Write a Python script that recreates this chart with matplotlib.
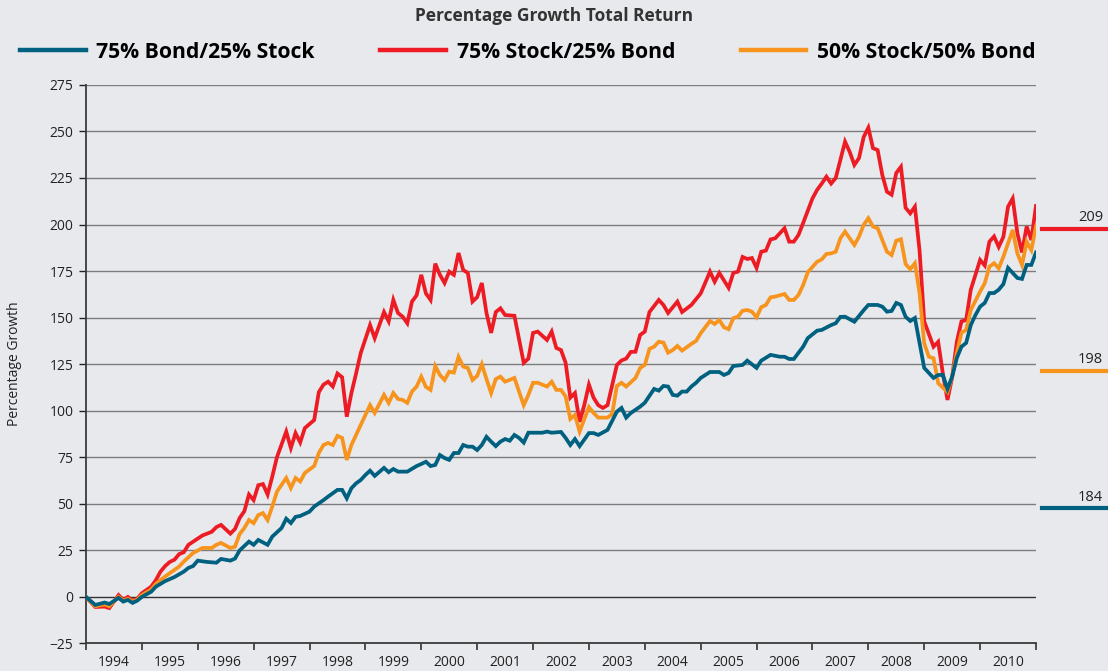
import matplotlib
matplotlib.use("Agg")
import matplotlib.pyplot as plt
from matplotlib.lines import Line2D
from matplotlib.transforms import blended_transform_factory

plt.rcParams["font.family"] = ["Open Sans", "DejaVu Sans"]

# months counted from the start of the chart (Dec 1993 = 0)
years = list(range(1994, 2011))
series_names = ["75% Bond/25% Stock", "75% Stock/25% Bond", "50% Stock/50% Bond"]
end_labels = ["184", "209", "198"]

bond75_m = [0, 2, 4, 5, 7, 8, 9, 10, 11, 12, 14, 15, 17, 19, 21, 22, 23, 24, 26, 28, 29, 31, 32, 33, 35, 36, 37, 39, 40,
            42, 43, 44, 45, 46, 48, 49, 51, 52, 54, 55, 56, 57, 58, 59, 60, 61, 62, 64, 65, 66, 67, 69, 71, 72, 73, 74,
            75, 76, 77, 78, 79, 80, 81, 82, 83, 84, 85, 86, 87, 88, 89, 90, 91, 92, 93, 94, 95, 98, 99, 100, 102, 103,
            104, 105, 106, 108, 109, 110, 112, 114, 115, 116, 117, 119, 120, 122, 123, 124, 125, 126, 127, 128, 129,
            130, 131, 132, 134, 136, 137, 138, 139, 141, 142, 144, 145, 147, 149, 150, 151, 152, 154, 155, 157, 158,
            160, 161, 162, 163, 165, 167, 168, 170, 171, 172, 173, 174, 175, 176, 177, 178, 179, 180, 182, 183, 184,
            185, 186, 187, 188, 189, 190, 191, 192, 193, 194, 195, 196, 197, 198, 200, 201, 202, 203, 204]
bond75_v = [0, -4.3, -3, -3.8, -0.5, -2.5, -1.6, -3.2, -2, 0, 2.8, 5.5, 8.5, 10.7, 13.6, 15.6, 16.6, 19.5, 18.8, 18.4,
            20.4, 19.5, 20.6, 25, 29.7, 28, 30.6, 28, 32.4, 37, 42, 39.7, 43, 43.5, 45.8, 48.5, 52, 53.9, 57.5, 57.5,
            53, 58.4, 61, 62.8, 65.5, 67.8, 65, 69.3, 67, 68.7, 67.3, 67.3, 70.3, 71.4, 72.6, 70.3, 70.9, 76.2, 74.6,
            73.6, 77.3, 77.3, 81.6, 80.7, 80.7, 78.9, 81.6, 86, 83.4, 81, 83.4, 84.8, 83.9, 87, 85.4, 82.9, 88.2, 88.2,
            88.8, 88.2, 88.6, 85.4, 81.6, 84.8, 81, 88, 88, 87, 89.7, 99.5, 101.5, 96.3, 98.8, 102.2, 104.3, 111.7,
            110.8, 113.3, 113, 108.5, 108.1, 110.3, 110.3, 113, 115, 117.6, 120.8, 120.8, 119.2, 120.3, 124, 124.6,
            126.9, 123, 126.9, 130, 129, 129, 127.8, 127.8, 134.4, 139, 143, 143.4, 146, 147, 150.4, 150.5, 147.8, 154,
            156.8, 156.8, 155.9, 153.2, 153.6, 157.9, 156.8, 150.5, 148.2, 149.8, 136.4, 123, 117.6, 119.2, 119.2,
            111.7, 118.3, 128.3, 134.4, 136.4, 146, 151.4, 155.9, 157.9, 163.2, 163.2, 165, 168, 176.7, 171.3, 170.8,
            178.3, 178.3, 185]

stock75_m = [0, 2, 4, 5, 7, 8, 9, 10, 11, 12, 14, 15, 16, 17, 18, 19, 20, 21, 22, 25, 27, 28, 29, 31, 32, 33, 34, 35,
             36, 37, 38, 39, 40, 41, 43, 44, 45, 46, 47, 49, 50, 51, 52, 53, 54, 55, 56, 57, 58, 59, 61, 62, 64, 65,
             66, 67, 68, 69, 70, 71, 72, 73, 74, 75, 76, 77, 78, 79, 80, 81, 82, 83, 84, 85, 86, 87, 88, 89, 90, 92,
             94, 95, 96, 97, 99, 100, 101, 102, 103, 104, 105, 106, 107, 108, 109, 110, 111, 112, 114, 115, 116, 117,
             118, 119, 120, 121, 123, 124, 125, 127, 128, 130, 132, 134, 135, 136, 138, 139, 140, 141, 142, 143, 144,
             145, 146, 147, 148, 150, 151, 152, 153, 154, 156, 157, 158, 159, 160, 161, 163, 164, 165, 166, 167, 168,
             169, 170, 171, 172, 173, 174, 175, 176, 177, 178, 179, 180, 182, 183, 184, 185, 186, 187, 188, 189, 190,
             191, 192, 193, 194, 195, 196, 197, 198, 199, 200, 201, 202, 203, 204]
stock75_v = [0, -5.4, -5.2, -6, 1, -1.6, 0, -2, -1, 2, 5.5, 9, 13.6, 16.6, 18.8, 20, 23, 24, 28, 33, 35, 37.5, 38.7, 34,
             36.5, 42.4, 46, 55, 52, 60, 60.6, 55, 64.6, 75, 88.8, 80, 88, 83, 90.7, 95, 110, 114, 115.6, 113, 120,
             118, 96.8, 109.5, 120, 131, 146, 139, 153, 148, 159.5, 152.5, 150.5, 147, 158.6, 162, 173, 163, 159.5,
             179, 173, 168.6, 174.7, 173, 184.7, 175.6, 174, 158.6, 161, 168.6, 152.5, 141.8, 153, 155, 151.4, 151,
             125.7, 128, 141.8, 142.5, 138, 142.5, 133.7, 132.6, 125.7, 107, 109.5, 94, 103, 114, 107, 103, 101.5, 103,
             124.6, 127, 128, 131.6, 131.7, 140.7, 142.5, 153, 159.5, 156.8, 152.5, 158.6, 153, 156.8, 163, 174.7,
             169.3, 174, 166, 174, 174.7, 182.6, 181.5, 182, 176.7, 185.4, 186, 192, 192.6, 198, 190.8, 190.8, 194.4,
             200.8, 214, 218.6, 222, 225.7, 222, 225, 244.5, 239, 232, 235.7, 247, 252, 241, 240, 226.6, 217.6, 216,
             227.7, 231, 209, 206, 209.6, 186, 148, 134.4, 137, 120, 105.8, 118, 137, 148, 148.7, 165, 173, 181, 178,
             190.8, 193.6, 188, 193.4, 209.6, 214, 195.4, 185, 199, 191.7, 210]

stock50_m = [0, 2, 4, 5, 7, 8, 9, 10, 11, 12, 14, 15, 17, 19, 20, 21, 23, 25, 27, 28, 29, 31, 32, 33, 34, 35, 36, 37,
             38, 39, 40, 41, 43, 44, 45, 46, 47, 49, 50, 51, 52, 53, 54, 55, 56, 57, 59, 61, 62, 64, 65, 66, 67, 68,
             69, 70, 71, 72, 73, 74, 75, 76, 77, 78, 79, 80, 81, 82, 83, 84, 85, 86, 87, 88, 89, 90, 92, 94, 95, 96,
             97, 99, 100, 101, 102, 103, 104, 105, 106, 108, 109, 110, 112, 113, 114, 115, 116, 118, 119, 120, 121,
             122, 123, 124, 125, 126, 127, 128, 130, 131, 132, 134, 135, 136, 137, 138, 139, 140, 141, 142, 143, 144,
             145, 146, 147, 148, 150, 151, 152, 153, 154, 155, 157, 158, 159, 160, 161, 162, 163, 164, 165, 166, 167,
             168, 169, 170, 171, 172, 173, 174, 175, 176, 177, 178, 179, 180, 181, 182, 183, 185, 186, 187, 188, 189,
             190, 192, 193, 194, 195, 196, 197, 199, 200, 201, 202, 203, 204]
stock50_v = [0, -5, -4, -5, 0, -2, -1, -2.5, -1.5, 1, 4, 7, 11, 14.5, 16.3, 19, 23.6, 26.3, 26.3, 28, 29, 26.3, 27,
             33.8, 37, 41.3, 39.6, 44, 45, 41.3, 48.5, 56.5, 63.9, 58.5, 63.9, 62, 66.6, 70.3, 77.3, 81.6, 82.7, 81.6,
             86.5, 85.4, 73.6, 81.6, 92.4, 103, 98.8, 108.5, 104.2, 109.5, 106.3, 105.8, 104.2, 110.3, 113, 118.3,
             112.8, 111.2, 124, 119.2, 116.5, 121, 120.5, 128.9, 123.7, 123, 116.5, 118.7, 125, 117, 109.5, 117, 118.3,
             115.6, 117.6, 103, 108.5, 115, 115, 113, 115.6, 111.2, 111.2, 107.6, 95.6, 97.7, 88.8, 102, 98.8, 96.3,
             96.3, 98.3, 113.3, 115, 113, 117.6, 123, 124.6, 133.2, 134.4, 137.1, 136.6, 131.2, 132.6, 134.8, 132.3,
             135.9, 137.5, 141.6, 148.2, 146.6, 148.7, 144.8, 143.8, 149.7, 150.5, 153.7, 154.1, 153.2, 150.2, 155.6,
             156.8, 160.9, 161.3, 162.7, 159.5, 159.5, 162.2, 167.5, 174.4, 180, 181.3, 184.2, 184.5, 185.4, 192.6,
             196.2, 192.6, 189, 193.5, 199.8, 203.4, 198.9, 198, 191.7, 185.4, 183.6, 191.3, 192.1, 178.8, 176, 179.2,
             163.1, 136.2, 129, 128.2, 114.8, 110, 118.3, 130.9, 141.9, 143.4, 154.1, 164, 168.5, 177.4, 179.2, 176.5,
             182.7, 197.1, 184.5, 178.3, 190.8, 186.3, 199]

teal = "#00607f"
red = "#ed1c24"
orange = "#f7941d"
bg = "#e8e9ed"

fig = plt.figure(figsize=(11.08, 6.71), dpi=100, facecolor=bg)
ax = fig.add_axes([0.0776, 0.041, 0.8574, 0.8325], facecolor=bg)

lines = []
for m, v, c in [(bond75_m, bond75_v, teal), (stock75_m, stock75_v, red), (stock50_m, stock50_v, orange)]:
    ln, = ax.plot(m, v, color=c, lw=2.7, solid_joinstyle="miter", zorder=3)
    lines.append(ln)
# teal sits on top of the others like the original
lines[0].set_zorder(5)
lines[2].set_zorder(4)

ax.set_xlim(0, 12 * len(years))
ax.set_ylim(-25, 275)
ax.set_yticks(range(-25, 276, 25))
ax.tick_params(axis="y", labelsize=10, length=5, width=1, colors="#222222", pad=4)
for y in range(25, 276, 25):
    ax.axhline(y, color="#7d7d7d", lw=1, zorder=1)
ax.axhline(0, color="#333333", lw=1, zorder=1)

ax.set_xticks([12 * i for i in range(len(years) + 1)])
ax.set_xticklabels([])
ax.set_xticks([12 * i + 6 for i in range(len(years))], minor=True)
ax.set_xticklabels([str(y) for y in years], minor=True)
ax.tick_params(axis="x", which="major", length=5, width=1.2, colors="#333333")
ax.tick_params(axis="x", which="minor", length=0, labelsize=10, pad=8, labelcolor="#222222")

for s in ["top", "right"]:
    ax.spines[s].set_visible(False)
for s in ["left", "bottom"]:
    ax.spines[s].set_color("#3a3a3a")
    ax.spines[s].set_linewidth(1.3)

ax.set_ylabel("Percentage Growth", fontsize=10, color="#222222", labelpad=20)

fig.text(0.5, 0.976, "Percentage Growth Total Return", ha="center", va="center",
         fontsize=12.5, fontweight="bold", color="#333333")

handles = [Line2D([], [], color=c, lw=3.2) for c in (teal, red, orange)]
fig.legend(handles, series_names, loc="center", bbox_to_anchor=(0.4765, 0.922), ncol=3, frameon=False,
           prop={"size": 15.2, "weight": "bold"}, handlelength=3.1, handletextpad=0.52, columnspacing=3.1)

# end value tags on the right
tr = blended_transform_factory(fig.transFigure, ax.transData)
for lab, c, ypos in zip(end_labels, (teal, red, orange), (47.5, 197.5, 121.5)):
    ax.plot([0.9404, 1.0], [ypos, ypos], color=c, lw=3, transform=tr, clip_on=False)
    ax.text(0.9955, ypos + 2, lab, ha="right", va="bottom", fontsize=10.5, color="#222222", transform=tr)

fig.savefig("out.png", dpi=100, facecolor=bg)
